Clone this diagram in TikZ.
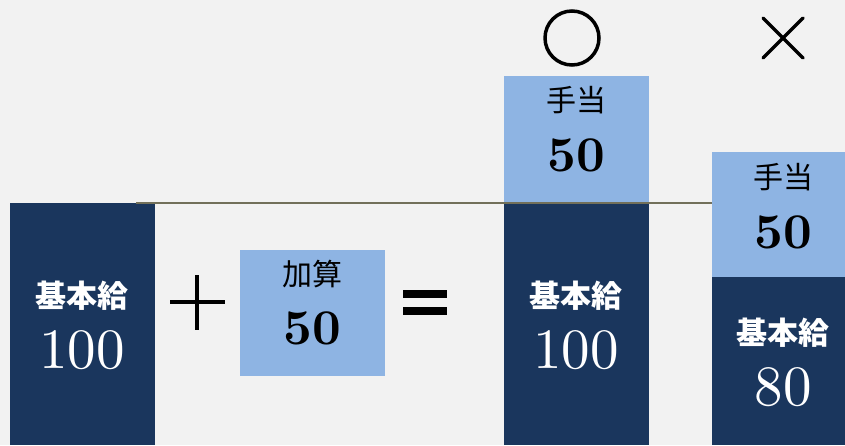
\documentclass[tikz,border=0pt]{standalone}
\usepackage{fontspec}
\newfontfamily\jpfont{Noto Sans CJK JP}
\newfontfamily\numfont{lmroman10-regular.otf}[BoldFont=lmroman10-bold.otf]
\usepackage{xcolor}
\usepackage{tikz}
\usetikzlibrary{positioning,shapes.misc}

\definecolor{navy}{HTML}{1A365D}
\definecolor{skyblue}{HTML}{8EB4E3}
\definecolor{paper}{HTML}{F2F2F2}
\definecolor{rulegray}{HTML}{72705A}

\begin{document}
\begin{tikzpicture}[
    x=1pt, y=-1pt,
    every node/.style={inner sep=0pt, outer sep=0pt},
    navybox/.style={fill=navy, anchor=north west, minimum width=145pt},
    bluebox/.style={fill=skyblue, anchor=north west, minimum width=145pt},
    kanji/.style={font=\jpfont\fontsize{30}{30}\selectfont},
    kanjiw/.style={font=\jpfont\bfseries\fontsize{31}{31}\selectfont, text=white},
    numw/.style={font=\numfont\fontsize{57}{57}\selectfont, text=white},
    numb/.style={font=\numfont\bfseries\fontsize{50}{50}\selectfont}
]

% Background
\fill[paper] (0,0) rectangle (845,445);
\useasboundingbox (0,0) rectangle (845,445);

% Left: base salary
\node[navybox, minimum height=242pt] (basel) at (10,203) {};
\node[kanjiw] (basellbl) at (82,296) {基本給};
\node[numw] (basenum) at (82,350) {100};

% Plus
\draw[line width=4pt] (170,302) -- (225,302);
\draw[line width=4pt] (197,275) -- (197,330);

% Addition
\node[bluebox, minimum height=126pt] (addbox) at (240,250) {};
\node[kanji] (addlbl) at (312,274) {加算};
\node[numb] (addnum) at (312,328) {50};

% Equals
\fill (403,290) rectangle (447,298);
\fill (403,307) rectangle (447,315);

% Middle stack (OK)
\node[bluebox, minimum height=127pt] (allowm) at (504,76) {};
\node[navybox, minimum height=242pt] (basem) at (504,203) {};
\node[kanji] (allowmlbl) at (576,100) {手当};
\node[numb] (allowmnum) at (576,155) {50};
\node[kanjiw] (basemlbl) at (576,296) {基本給};
\node[numw] (basemnum) at (576,350) {100};
\node[circle, draw, line width=3.5pt, minimum size=54pt] (okmark) at (572,38) {};

% Right stack (NG)
\node[bluebox, minimum height=125pt] (allowr) at (712,152) {};
\node[navybox, minimum height=168pt] (baser) at (712,277) {};
\node[kanji] (allowrlbl) at (783,177) {手当};
\node[numb] (allowrnum) at (783,232) {50};
\node[kanjiw] (baserlbl) at (783,333) {基本給};
\node[numw] (basernum) at (783,387) {80};
\node[cross out, draw, line width=3.5pt, line cap=round, minimum size=40pt] (ngmark) at (783,38) {};

% Reference line
\coordinate (lineL) at (136,203);
\draw[rulegray, line width=1.5pt] (lineL) -- (allowr.west |- lineL);

\end{tikzpicture}
\end{document}
